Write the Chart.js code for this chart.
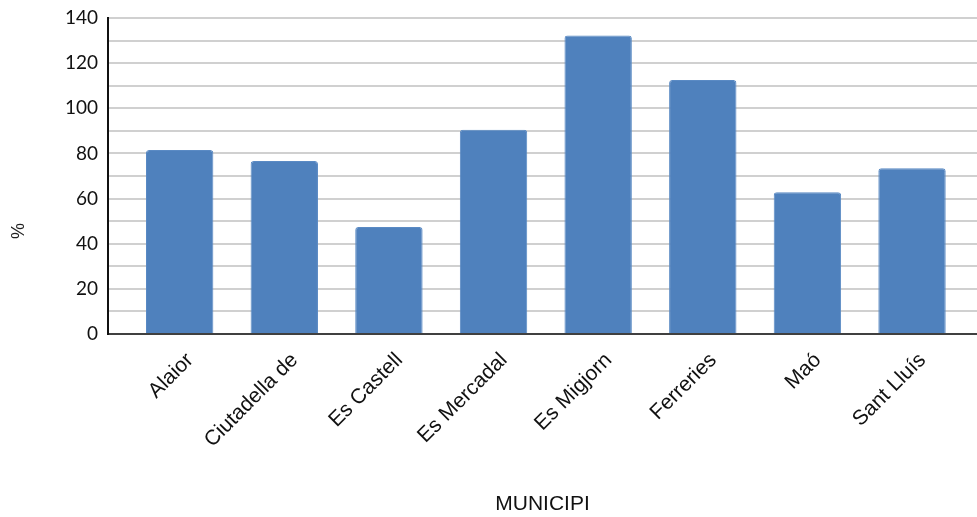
<!DOCTYPE html>
<html>
<head>
<meta charset="utf-8">
<script src="https://cdn.jsdelivr.net/npm/chart.js@4"></script>
<style>
html,body{margin:0;padding:0;background:#fff;}
#wrap{width:977px;height:517px;}
</style>
</head>
<body>
<div id="wrap"><canvas id="c" width="977" height="517"></canvas></div>
<script>
const categories = ['Alaior','Ciutadella de','Es Castell','Es Mercadal','Es Migjorn','Ferreries','Maó','Sant Lluís'];
const values = [81.5, 76.6, 47.4, 90.5, 132.2, 112.5, 62.8, 73.4];
const yTitle = '%';
const xTitle = 'MUNICIPI';

const points = values.map((v, i) => ({x: i, y: v}));
const labelShift = 0.1;

new Chart(document.getElementById('c'), {
  type: 'bar',
  data: {
    datasets: [{
      data: points,
      backgroundColor: '#4F81BD',
      borderColor: '#5A8AC4',
      borderWidth: 1,
      borderRadius: 3,
      borderSkipped: 'bottom',
      categoryPercentage: 0.644,
      barPercentage: 1
    }]
  },
  options: {
    responsive: false,
    animation: false,
    devicePixelRatio: 1,
    layout: {padding: {top: 18, right: 0, left: 0, bottom: 0}},
    plugins: {legend: {display: false}, tooltip: {enabled: false}},
    scales: {
      x: {
        type: 'linear',
        offset: false,
        min: -0.685,
        max: 7.621,
        afterBuildTicks: (s) => { s.ticks = categories.map((c, i) => ({value: i + labelShift})); },
        afterFit: (s) => { s.height = 183; },
        grid: {display: false, drawTicks: false, offset: false},
        border: {display: true, color: '#404040', width: 2},
        ticks: {
          autoSkip: false,
          minRotation: 45,
          maxRotation: 45,
          padding: 14,
          color: '#111',
          font: {family: 'Liberation Sans', size: 21},
          callback: (v) => {
            const c = categories[Math.round(v - labelShift)];
            return c !== undefined ? c : '';
          }
        },
        title: {
          display: true,
          text: xTitle,
          color: '#111',
          font: {family: 'Liberation Sans', size: 21},
          padding: {top: 0, bottom: 0}
        }
      },
      y: {
        min: 0,
        max: 140,
        afterFit: (s) => { s.width = 108; s.paddingTop = 0; s.paddingBottom = 0; },
        grid: {color: '#d0d0d0', lineWidth: 2, drawTicks: false},
        border: {display: true, color: '#111', width: 2},
        ticks: {
          stepSize: 10,
          maxTicksLimit: 20,
          autoSkip: false,
          padding: 10,
          color: '#111',
          font: {family: 'Lato', size: 19},
          callback: (v) => v % 20 === 0 ? v : ''
        },
        title: {
          display: true,
          text: yTitle + '\u00A0'.repeat(22),
          color: '#222',
          font: {family: 'Liberation Sans', size: 18},
          padding: {top: 8, bottom: 0}
        }
      }
    }
  }
});
</script>
</body>
</html>
